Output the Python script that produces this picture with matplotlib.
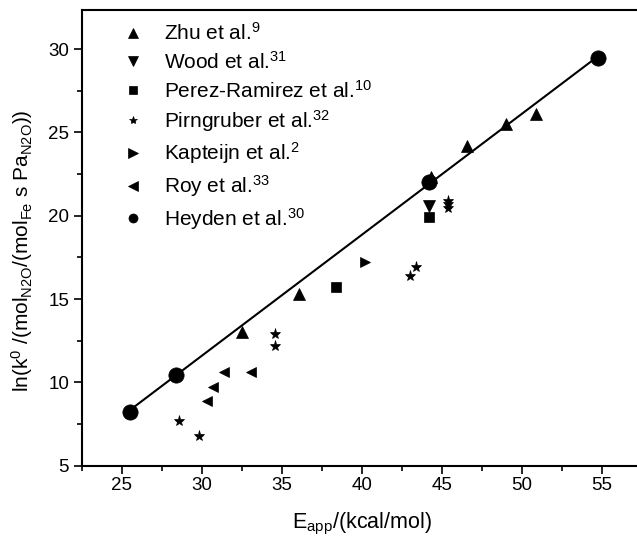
import numpy as np
import matplotlib
matplotlib.use("Agg")
import matplotlib.pyplot as plt
from matplotlib.lines import Line2D
from matplotlib.ticker import MultipleLocator

plt.rcParams['font.family'] = ['Liberation Sans', 'DejaVu Sans']
plt.rcParams['mathtext.fontset'] = 'custom'
plt.rcParams['mathtext.rm'] = 'Liberation Sans'
plt.rcParams['mathtext.it'] = 'Liberation Sans'
plt.rcParams['mathtext.bf'] = 'Liberation Sans:bold'

# Apparent activation energy (kcal/mol) vs ln(pre-exponential factor)
zhu_x = [32.5, 36.1, 44.3, 46.6, 49.0, 50.9]
zhu_y = [13.0, 15.3, 22.3, 24.2, 25.5, 26.1]
wood_x = [44.2]
wood_y = [20.6]
perez_x = [38.4, 44.2]
perez_y = [15.7, 19.9]
pirn_x = [28.6, 29.8, 34.6, 34.6, 43.0, 43.4, 45.4, 45.4, 45.4]
pirn_y = [7.7, 6.8, 12.9, 12.2, 16.4, 16.9, 20.9, 20.7, 20.45]
kap_x = [40.2]
kap_y = [17.2]
roy_x = [30.3, 30.7, 31.4, 33.1]
roy_y = [8.9, 9.7, 10.6, 10.6]
hey_x = [25.5, 28.4, 44.2, 54.75]
hey_y = [8.25, 10.45, 22.05, 29.45]

labels = [r"Zhu et al.$^{9}$", r"Wood et al.$^{31}$", r"Perez-Ramirez et al.$^{10}$",
          r"Pirngruber et al.$^{32}$", r"Kapteijn et al.$^{2}$", r"Roy et al.$^{33}$",
          r"Heyden et al.$^{30}$"]

fig = plt.figure(figsize=(6.37, 5.39), dpi=100)
ax = fig.add_axes([81.7 / 637, 73.3 / 539, 560 / 637, 455.7 / 539])

mk = dict(linestyle='none', color='k', markeredgewidth=0.5, markeredgecolor='k', zorder=3)

# linear fit through the Heyden et al. points
coef = np.polyfit(hey_x, hey_y, 1)
xs = np.array([min(hey_x), max(hey_x)])
ax.plot(xs, np.polyval(coef, xs), color='k', lw=1.5, zorder=2)

ax.plot(zhu_x, zhu_y, marker='^', markersize=8, **mk)
ax.plot(wood_x, wood_y, marker='v', markersize=8, **mk)
ax.plot(perez_x, perez_y, marker='s', markersize=6.5, **mk)
ax.plot(pirn_x, pirn_y, marker='*', markersize=8, **mk)
ax.plot(kap_x, kap_y, marker='>', markersize=7.5, **mk)
ax.plot(roy_x, roy_y, marker='<', markersize=7.5, **mk)
ax.plot(hey_x, hey_y, marker='o', markersize=11, **mk)

handles = [
    Line2D([], [], marker='^', markersize=7.5, **mk),
    Line2D([], [], marker='v', markersize=7.5, **mk),
    Line2D([], [], marker='s', markersize=6, **mk),
    Line2D([], [], marker='*', markersize=6, **mk),
    Line2D([], [], marker='>', markersize=7, **mk),
    Line2D([], [], marker='<', markersize=7, **mk),
    Line2D([], [], marker='o', markersize=6.5, **mk),
]
ax.legend(handles, labels, loc='upper left', bbox_to_anchor=(0.073, 0.973),
          frameon=False, fontsize=15, handlelength=1.0, handletextpad=1.0,
          labelspacing=0.32, borderpad=0, borderaxespad=0)

ax.set_xlim(22.5, 57.5)
ax.set_ylim(5, 32.34)
ax.xaxis.set_major_locator(MultipleLocator(5))
ax.xaxis.set_minor_locator(MultipleLocator(2.5))
ax.yaxis.set_major_locator(MultipleLocator(5))
ax.yaxis.set_minor_locator(MultipleLocator(2.5))
ax.tick_params(which='major', direction='out', length=6, width=1.2, labelsize=13.5, pad=2)
ax.tick_params(which='minor', direction='out', length=3.5, width=1.2)
ax.tick_params(axis='y', which='major', pad=3)

for side in ['left', 'bottom', 'top']:
    ax.spines[side].set_linewidth(1.5)
ax.spines['right'].set_visible(False)

ax.set_xlabel(r"E$_{\mathrm{app}}$/(kcal/mol)", fontsize=15.5, labelpad=12)
ax.set_ylabel(r"ln(k$^{0}$ /(mol$_{\mathrm{N2O}}$/(mol$_{\mathrm{Fe}}$ s Pa$_{\mathrm{N2O}}$))",
              fontsize=15)
ax.yaxis.set_label_coords(-0.083, 0.472)

fig.savefig("out.png", dpi=100)
